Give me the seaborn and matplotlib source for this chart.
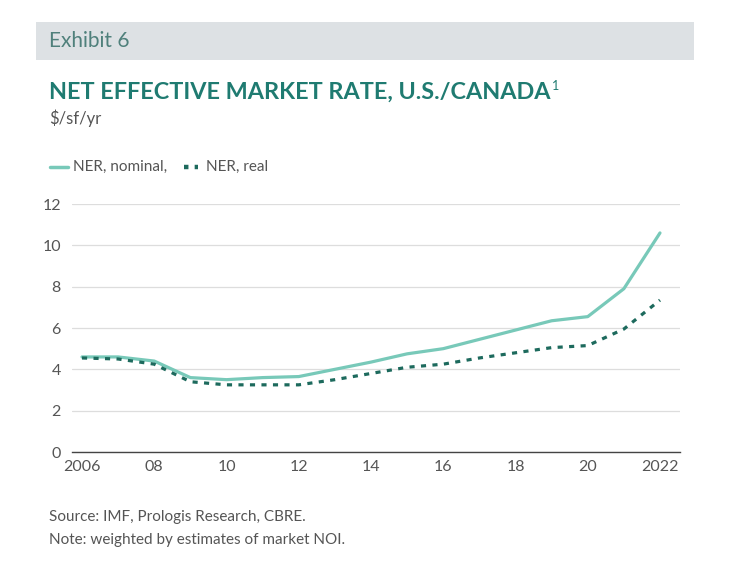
import matplotlib
matplotlib.use("Agg")
import matplotlib.pyplot as plt
import seaborn as sns
import pandas as pd
from matplotlib.patches import Rectangle
from matplotlib.lines import Line2D

years = list(range(2006, 2023))
nominal = [4.6, 4.6, 4.4, 3.6, 3.5, 3.6, 3.65, 4.0, 4.35, 4.75, 5.0, 5.45, 5.9, 6.35, 6.55, 7.9, 10.6]
real = [4.55, 4.5, 4.25, 3.4, 3.25, 3.25, 3.25, 3.5, 3.8, 4.1, 4.25, 4.55, 4.8, 5.05, 5.15, 5.95, 7.35]
xtick_vals = [2006, 2008, 2010, 2012, 2014, 2016, 2018, 2020, 2022]
xtick_labels = ["2006", "08", "10", "12", "14", "16", "18", "20", "2022"]
ytick_vals = [0, 2, 4, 6, 8, 10, 12]

sns.set_theme(style="white")
plt.rcParams["font.family"] = ["Lato", "DejaVu Sans"]

C_NOM = "#78c9b9"
C_REAL = "#1d6a5d"
C_TITLE = "#1f7b71"
C_TEXT = "#555555"
DASH = (0, (1.6, 2.0))

fig = plt.figure(figsize=(7.32, 5.63), dpi=100)
W, H = 732, 563

def fx(px):
    return px / W

def fy(py):
    return 1 - py / H

# header band
fig.patches.append(Rectangle((fx(36), fy(60)), fx(694) - fx(36), fy(22) - fy(60),
                             transform=fig.transFigure, facecolor="#dde1e4", edgecolor="none", zorder=0))
fig.text(fx(49), fy(41), "Exhibit 6", fontsize=15, fontweight="normal", color="#4f807b", va="center", ha="left")
title = fig.text(fx(49), fy(92), "NET EFFECTIVE MARKET RATE, U.S./CANADA", fontsize=16.8, fontweight="bold",
                 color=C_TITLE, va="center", ha="left")
fig.canvas.draw()
bb = title.get_window_extent(renderer=fig.canvas.get_renderer())
fig.text(bb.x1 / W + fx(1), fy(86), "1", fontsize=9, color=C_TITLE, va="center", ha="left")
fig.text(fx(49), fy(118), "$/sf/yr", fontsize=12, color=C_TEXT, va="center", ha="left")

# legend
fig.lines.append(Line2D([fx(50), fx(68)], [fy(167), fy(167)], transform=fig.transFigure,
                        color=C_NOM, lw=2.5))
fig.text(fx(73), fy(167), "NER, nominal,", fontsize=11, color=C_TEXT, va="center", ha="left")
fig.lines.append(Line2D([fx(184), fx(198)], [fy(167), fy(167)], transform=fig.transFigure,
                        color=C_REAL, lw=3.2, linestyle=(0, (1.0, 1.4))))
fig.text(fx(206), fy(167), "NER, real", fontsize=11, color=C_TEXT, va="center", ha="left")

ax = fig.add_axes([fx(72), fy(452), fx(680) - fx(72), fy(204) - fy(452)])
df = pd.DataFrame({"year": years, "nominal": nominal, "real": real})
sns.lineplot(data=df, x="year", y="nominal", ax=ax, color=C_NOM, lw=2.3)
sns.lineplot(data=df, x="year", y="real", ax=ax, color=C_REAL, lw=2.3, linestyle=DASH)

ax.set_xlim(2006 - 10 / 36.1, 2022 + 20 / 36.1)
ax.set_ylim(0, 12)
ax.set_xticks(xtick_vals)
ax.set_xticklabels(xtick_labels)
ax.set_yticks(ytick_vals)
ax.set_yticklabels([str(v) for v in ytick_vals])
ax.set_xlabel("")
ax.set_ylabel("")
ax.grid(axis="y", color="#dddddd", lw=0.9)
ax.set_axisbelow(True)
for s in ["top", "right", "left"]:
    ax.spines[s].set_visible(False)
ax.spines["bottom"].set_color("#444444")
ax.spines["bottom"].set_linewidth(1.0)
ax.tick_params(axis="both", length=0, labelsize=11.5, labelcolor=C_TEXT)
ax.tick_params(axis="y", pad=8)
ax.tick_params(axis="x", pad=6)

fig.text(fx(49), fy(517), "Source: IMF, Prologis Research, CBRE.", fontsize=11, color=C_TEXT, va="center", ha="left")
fig.text(fx(49), fy(540), "Note: weighted by estimates of market NOI.", fontsize=11, color=C_TEXT, va="center", ha="left")

fig.savefig("out.png", dpi=100, facecolor="white")
